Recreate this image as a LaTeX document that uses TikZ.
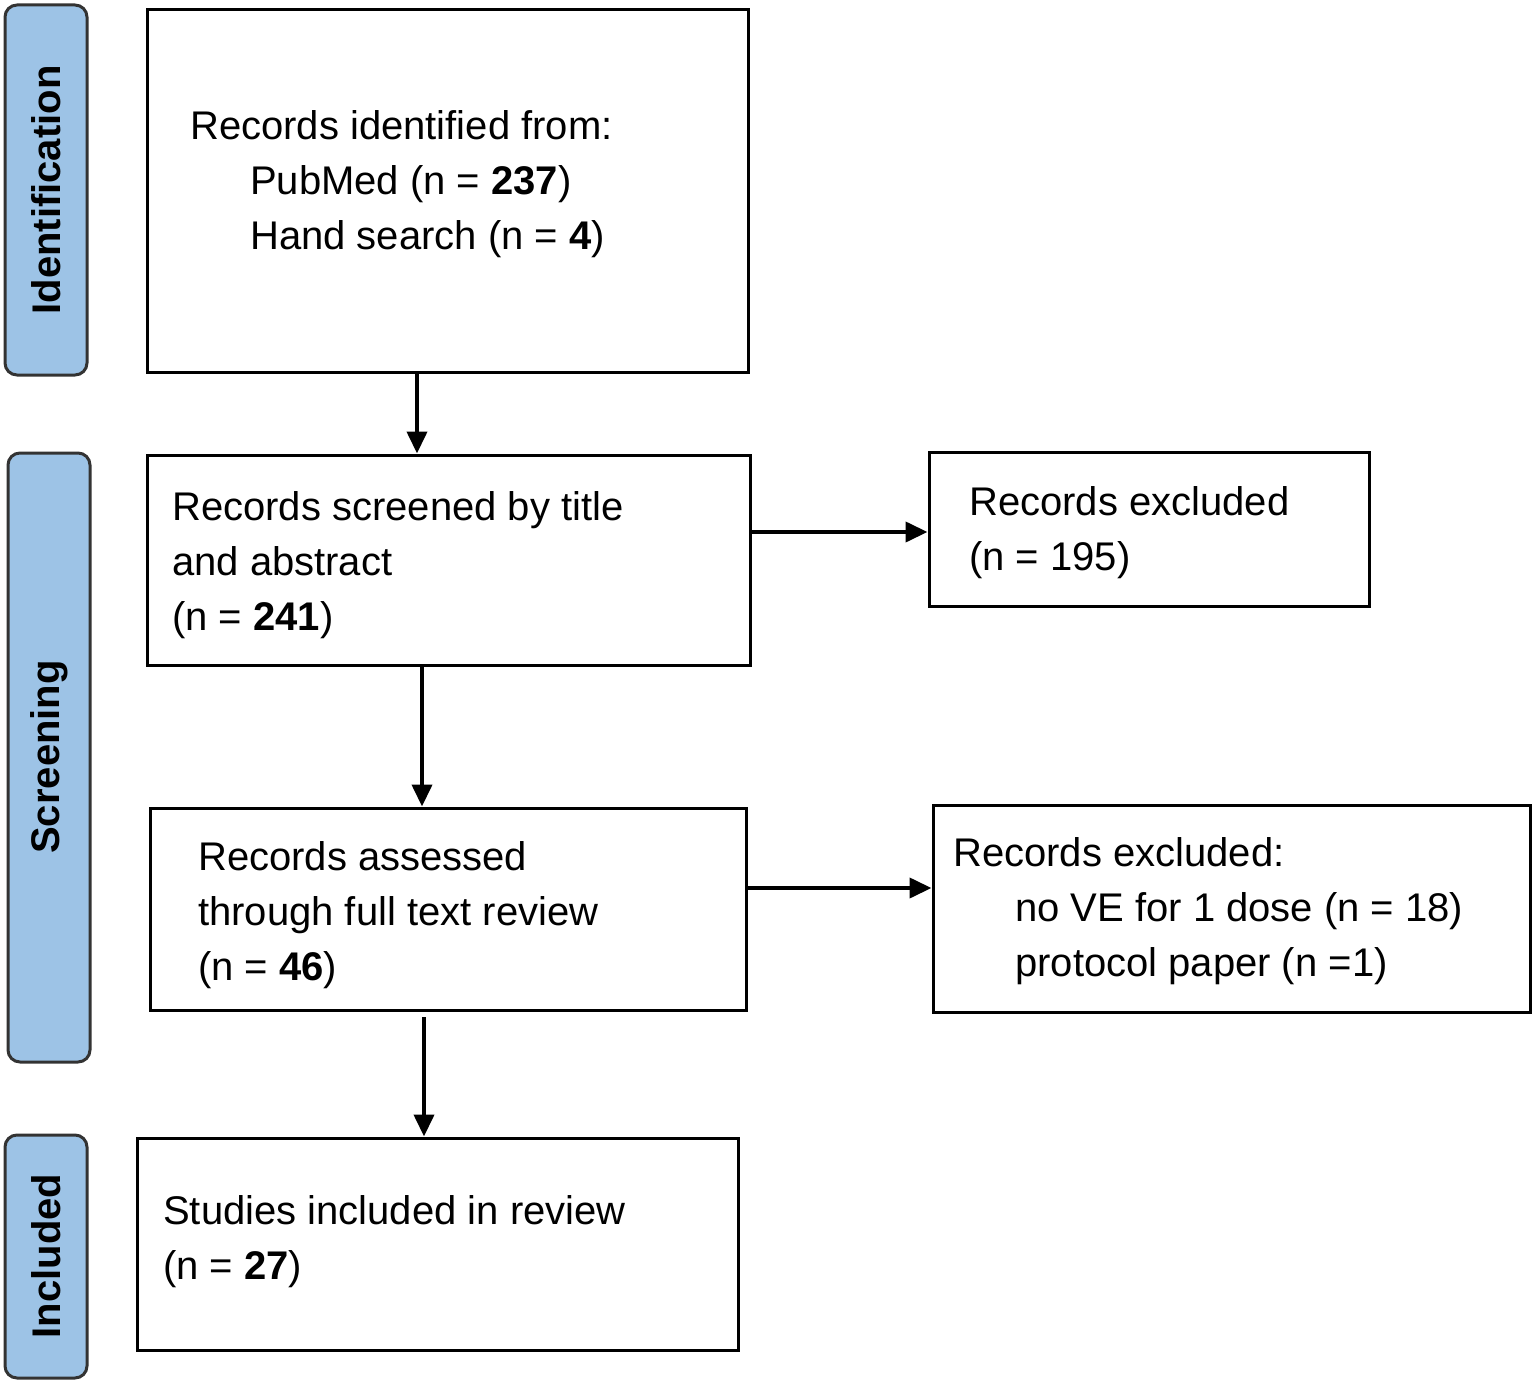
\documentclass[tikz,border=0pt]{standalone}
\usepackage{fontspec}
\setmainfont{Liberation Sans}
\usetikzlibrary{arrows.meta}
\begin{document}
\begin{tikzpicture}[x=1pt,y=-1pt,
  box/.style={draw, line width=3pt, minimum width=#1, inner sep=0pt},
  lab/.style={draw=black!80, line width=3pt, fill=blue!30!cyan!25!white, fill=labfill, rounded corners=12pt},
  txt/.style={anchor=base west, inner sep=0pt, font=\fontsize{40}{48}\selectfont},
  side/.style={rotate=90, inner sep=0pt, font=\fontsize{40}{48}\selectfont\bfseries},
  arr/.style={line width=4pt, -{Triangle[length=22pt,width=20pt]}}]
\definecolor{labfill}{HTML}{9DC3E6}
\useasboundingbox (0,0) rectangle (1534,1383);
% side labels
\draw[lab] (5,5) rectangle (87,375); \node[side] (lid) at (46,190) {Identification};
\draw[lab] (8,453) rectangle (90,1062); \node[side] (lsc) at (49,757) {Screening};
\draw[lab] (5,1135) rectangle (87,1378); \node[side] (lin) at (46,1256) {Included};
% boxes
\node[draw,line width=3pt,minimum width=601pt,minimum height=362pt,inner sep=0pt] (b1) at (447.5,191) {};
\node[draw,line width=3pt,minimum width=603pt,minimum height=210pt,inner sep=0pt] (b2) at (448.5,560) {};
\node[draw,line width=3pt,minimum width=596pt,minimum height=202pt,inner sep=0pt] (b3) at (448,909) {};
\node[draw,line width=3pt,minimum width=601pt,minimum height=212pt,inner sep=0pt] (b4) at (437.5,1244) {};
\node[draw,line width=3pt,minimum width=440pt,minimum height=154pt,inner sep=0pt] (e1) at (1149,529) {};
\node[draw,line width=3pt,minimum width=597pt,minimum height=207pt,inner sep=0pt] (e2) at (1231.5,908.5) {};
% texts
\node[txt] (t11) at (190,140) {Records identified from:};
\node[txt] (t12) at (250,195) {PubMed (n = \textbf{237})};
\node[txt] (t13) at (250,250) {Hand search (n = \textbf{4})};
\node[txt] (t21) at (172,520) {Records screened by title};
\node[txt] (t22) at (172,575) {and abstract};
\node[txt] (t23) at (172,630) {(n = \textbf{241})};
\node[txt] (t31) at (198,870) {Records assessed};
\node[txt] (t32) at (198,925) {through full text review};
\node[txt] (t33) at (198,980) {(n = \textbf{46})};
\node[txt] (t41) at (163,1224) {Studies included in review};
\node[txt] (t42) at (163,1279) {(n = \textbf{27})};
\node[txt] (t51) at (969,515) {Records excluded};
\node[txt] (t52) at (969,570) {(n = 195)};
\node[txt] (t61) at (953,866) {Records excluded:};
\node[txt] (t62) at (1015,921) {no VE for 1 dose (n = 18)};
\node[txt] (t63) at (1015,976) {protocol paper (n =1)};
% arrows
\draw[arr] (b1.south -| 417,0) -- (b2.north -| 417,0);
\draw[arr] (b2.south -| 422,0) -- (b3.north -| 422,0);
\draw[arr] (424,1017) -- (b4.north -| 424,0);
\draw[arr] (b2.east |- 0,532) -- (e1.west |- 0,532);
\draw[arr] (b3.east |- 0,888) -- (e2.west |- 0,888);
\end{tikzpicture}
\end{document}
